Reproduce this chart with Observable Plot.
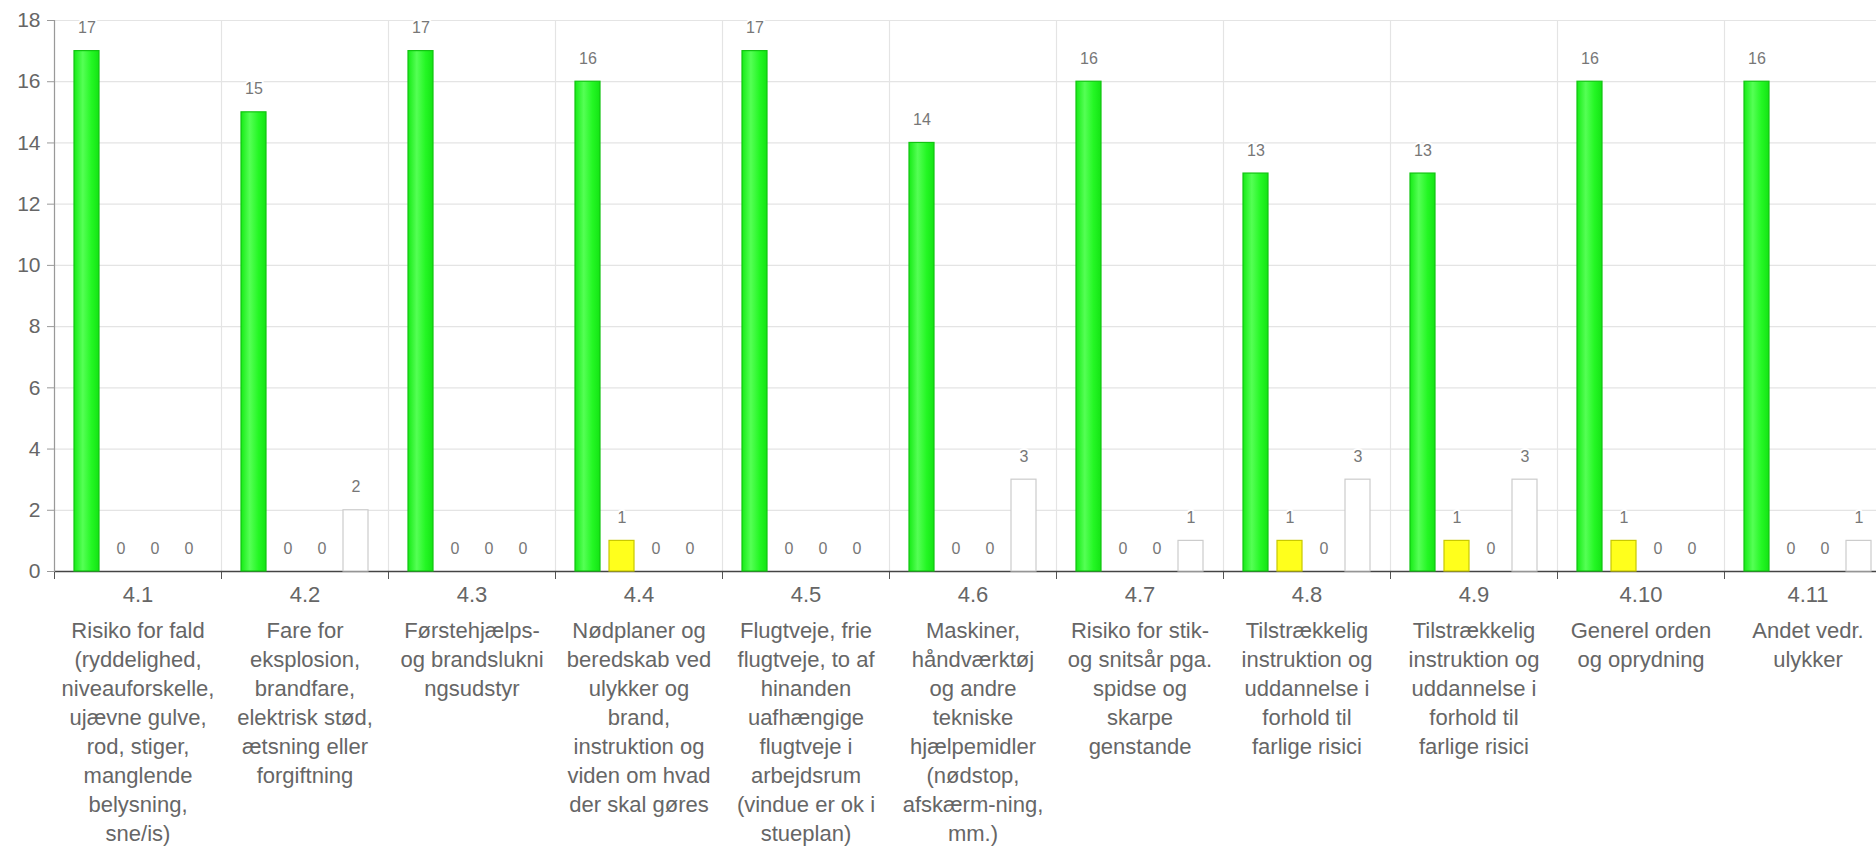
<!DOCTYPE html>
<html>
<head>
<meta charset="utf-8">
<script src="https://cdn.jsdelivr.net/npm/d3@7"></script>
<script src="https://cdn.jsdelivr.net/npm/@observablehq/plot@0.6"></script>
<style>
  html, body { margin: 0; padding: 0; background: #fff; overflow: hidden; }
  #chart { width: 1876px; height: 848px; overflow: hidden; }
  #chart svg { max-width: none !important; display: block; }
</style>
</head>
<body>
<div id="chart"></div>
<script>
// ---- data ----
const categories = ["4.1","4.2","4.3","4.4","4.5","4.6","4.7","4.8","4.9","4.10","4.11"];
const descriptions = [
  "Risiko for fald\n(ryddelighed,\nniveauforskelle,\nujævne gulve,\nrod, stiger,\nmanglende\nbelysning,\nsne/is)",
  "Fare for\neksplosion,\nbrandfare,\nelektrisk stød,\nætsning eller\nforgiftning",
  "Førstehjælps-\nog brandslukni\nngsudstyr",
  "Nødplaner og\nberedskab ved\nulykker og\nbrand,\ninstruktion og\nviden om hvad\nder skal gøres",
  "Flugtveje, frie\nflugtveje, to af\nhinanden\nuafhængige\nflugtveje i\narbejdsrum\n(vindue er ok i\nstueplan)",
  "Maskiner,\nhåndværktøj\nog andre\ntekniske\nhjælpemidler\n(nødstop,\nafskærm-ning,\nmm.)",
  "Risiko for stik-\nog snitsår pga.\nspidse og\nskarpe\ngenstande",
  "Tilstrækkelig\ninstruktion og\nuddannelse i\nforhold til\nfarlige risici",
  "Tilstrækkelig\ninstruktion og\nuddannelse i\nforhold til\nfarlige risici",
  "Generel orden\nog oprydning",
  "Andet vedr.\nulykker"
];
const seriesKeys = ["green","yellow","red","white"];
const greenValues  = [17,15,17,16,17,14,16,13,13,16,16];
const yellowValues = [0,0,0,1,0,0,0,1,1,1,0];
const redValues    = [0,0,0,0,0,0,0,0,0,0,0];
const whiteValues  = [0,2,0,0,0,3,1,3,3,0,1];
const yTicks = [0,2,4,6,8,10,12,14,16,18];

// ---- table ----
const seriesValues = {green: greenValues, yellow: yellowValues, red: redValues, white: whiteValues};
const rows = [];
categories.forEach((c, i) => {
  seriesKeys.forEach(s => rows.push({cat: c, series: s, value: seriesValues[s][i]}));
});
const descOf = new Map(categories.map((c, i) => [c, descriptions[i]]));

const marginTop = 20, marginBottom = 277, height = 848;
const plotH = height - marginTop - marginBottom;
const font = "'Liberation Sans', Arial, sans-serif";

const styleFor = {
  green:  {fill: "url(#gGreen)", stroke: "#12c412"},
  yellow: {fill: "#ffff1c", stroke: "#c9c900"},
  red:    {fill: "#ff2020", stroke: "#c00000"},
  white:  {fill: "#ffffff", stroke: "#cccccc"}
};

const barMarks = seriesKeys.map(s => Plot.barY(rows, {
  filter: d => d.series === s && d.value > 0,
  fx: "cat", x: "series", y: "value",
  fill: styleFor[s].fill, stroke: styleFor[s].stroke, strokeWidth: 1.2
}));

const chart = Plot.plot({
  width: 1892,
  height,
  marginTop,
  marginBottom,
  marginLeft: 54,
  marginRight: 1,
  style: {fontFamily: font, background: "#fff", maxWidth: "none"},
  fx: {domain: categories, padding: 0, label: null},
  x: {domain: seriesKeys, paddingInner: 0.275, paddingOuter: 0.553, axis: null},
  y: {domain: [0, 18], label: null},
  marks: [
    Plot.gridY({ticks: yTicks, stroke: "#e4e4e4", strokeOpacity: 1, strokeWidth: 1.2}),
    Plot.frame({anchor: "left", stroke: "#e4e4e4", strokeWidth: 1.2}),
    Plot.frame({anchor: "left", stroke: "#555", insetTop: plotH, insetBottom: -7}),
    Plot.ruleY([0], {stroke: "#444", strokeWidth: 1.5}),
    ...barMarks,
    Plot.text(rows, {
      fx: "cat", x: "series", y: "value", text: d => String(d.value),
      dy: -23, fill: "#777", stroke: "#fff", strokeWidth: 4, fontSize: 16
    }),
    Plot.frame({anchor: "left", facetAnchor: "left", stroke: "#999", strokeWidth: 1.2}),
    Plot.axisY({ticks: yTicks, tickSize: 7, tickPadding: 7, fontSize: 21, fill: "#666", stroke: "#999", label: null}),
    Plot.axisFx({
      anchor: "bottom", tickSize: 0, tickPadding: 15, fontSize: 22,
      fill: "#666", label: null,
      tickFormat: c => c
    }),
    Plot.axisFx({
      anchor: "bottom", tickSize: 0, tickPadding: 46, fontSize: 22, lineHeight: 1.32,
      fill: "#666", label: null,
      tickFormat: c => descOf.get(c)
    })
  ]
});

// gradient for green bars
const svgNS = "http://www.w3.org/2000/svg";
const svgEl = chart.tagName.toLowerCase() === "svg" ? chart : chart.querySelector("svg");
const defs = document.createElementNS(svgNS, "defs");
const grad = document.createElementNS(svgNS, "linearGradient");
grad.setAttribute("id", "gGreen");
grad.setAttribute("x1", "0"); grad.setAttribute("x2", "1");
grad.setAttribute("y1", "0"); grad.setAttribute("y2", "0");
[["0", "#16ec16"], ["0.35", "#55ff55"], ["0.7", "#24f724"], ["1", "#14e414"]].forEach(([o, c]) => {
  const st = document.createElementNS(svgNS, "stop");
  st.setAttribute("offset", o); st.setAttribute("stop-color", c);
  grad.appendChild(st);
});
defs.appendChild(grad);
svgEl.insertBefore(defs, svgEl.firstChild);

document.getElementById("chart").appendChild(chart);
</script>
</body>
</html>
